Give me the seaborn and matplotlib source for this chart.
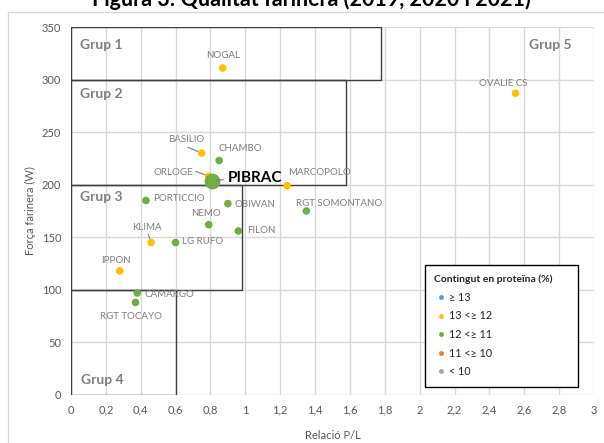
import matplotlib
matplotlib.use("Agg")
import pandas as pd
import seaborn as sns
import matplotlib.pyplot as plt
from matplotlib.patches import Rectangle
from matplotlib.lines import Line2D
from matplotlib.ticker import FuncFormatter, MultipleLocator

# Dades: varietats, relació P/L, força (W) i categoria de proteïna
varietats = ["NOGAL", "OVALIE CS", "BASILIO", "CHAMBO", "ORLOGE", "MARCOPOLO",
             "PORTICCIO", "OBIWAN", "NEMO", "RGT SOMONTANO", "FILON", "KLIMA",
             "LG RUFO", "IPPON", "CAMARGO", "RGT TOCAYO"]
relacio_pl = [0.87, 2.55, 0.75, 0.85, 0.79, 1.24, 0.43, 0.90, 0.79, 1.35,
              0.96, 0.46, 0.60, 0.28, 0.38, 0.37]
forca_w = [311, 287, 230, 223, 208, 199, 185, 182, 162, 175, 156, 145,
           145, 118, 97, 88]
proteina = ["13 <≥ 12", "13 <≥ 12", "13 <≥ 12", "12 <≥ 11", "13 <≥ 12",
            "13 <≥ 12", "12 <≥ 11", "12 <≥ 11", "12 <≥ 11", "12 <≥ 11",
            "12 <≥ 11", "13 <≥ 12", "12 <≥ 11", "13 <≥ 12", "12 <≥ 11",
            "12 <≥ 11"]

# varietat destacada
pibrac_pl = 0.81
pibrac_w = 204
pibrac_cat = "12 <≥ 11"

categories = ["≥ 13", "13 <≥ 12", "12 <≥ 11", "11 <≥ 10", "< 10"]
colors = ["#5B9BD5", "#FFC000", "#70AD47", "#ED7D31", "#A5A5A5"]
palette = dict(zip(categories, colors))

# grups de qualitat: (x0, x1, y0, y1)
grups = {"Grup 1": (0, 1.78, 300, 350), "Grup 2": (0, 1.58, 200, 300),
         "Grup 3": (0, 0.98, 100, 200), "Grup 4": (0, 0.6, 0, 100)}

df = pd.DataFrame({"Varietat": varietats, "P/L": relacio_pl, "W": forca_w,
                   "Proteina": proteina})

sns.set_theme(style="white")
plt.rcParams["font.family"] = ["Lato", "DejaVu Sans"]

fig = plt.figure(figsize=(6.04, 4.43), dpi=100)
ax = fig.add_axes([0.1175, 0.1084, 0.8659, 0.8306])

sns.scatterplot(data=df, x="P/L", y="W", hue="Proteina", palette=palette,
                s=30, linewidth=0, ax=ax, legend=False, zorder=4)
sns.scatterplot(x=[pibrac_pl], y=[pibrac_w], color=palette[pibrac_cat],
                s=130, linewidth=0, ax=ax, legend=False, zorder=5)

# rectangles dels grups
for nom, (x0, x1, y0, y1) in grups.items():
    ax.add_patch(Rectangle((x0, y0), x1 - x0, y1 - y0, fill=False,
                           edgecolor="#404040", linewidth=1, zorder=3))

grey = "#7F7F7F"
ax.text(0.05, 333, "Grup 1", fontsize=10, fontweight="bold", color=grey, va="center")
ax.text(0.05, 286, "Grup 2", fontsize=10, fontweight="bold", color=grey, va="center")
ax.text(0.05, 188, "Grup 3", fontsize=10, fontweight="bold", color=grey, va="center")
ax.text(0.06, 14, "Grup 4", fontsize=10, fontweight="bold", color=grey, va="center")
ax.text(2.63, 333, "Grup 5", fontsize=10, fontweight="bold", color=grey, va="center")

# etiquetes (desplaçament en píxels)
offsets = {"NOGAL": (0, 13, "center"), "OVALIE CS": (-12, 10, "center"),
           "BASILIO": (-15, 14, "center"), "CHAMBO": (21, 12, "center"),
           "ORLOGE": (-35, 4, "center"), "MARCOPOLO": (1, 13, "left"),
           "PORTICCIO": (7, 2, "left"), "OBIWAN": (7, -1, "left"),
           "NEMO": (-3, 11, "center"), "RGT SOMONTANO": (-10, 8, "left"),
           "FILON": (9, 0, "left"), "KLIMA": (-4, 15, "center"),
           "LG RUFO": (6, 1, "left"), "IPPON": (-4, 10, "center"),
           "CAMARGO": (7, -1, "left"), "RGT TOCAYO": (-4, -14, "center")}
for nom, x, y in zip(varietats, relacio_pl, forca_w):
    dx, dy, ha = offsets[nom]
    ax.annotate(nom, (x, y), xytext=(dx, dy), textcoords="offset pixels",
                ha=ha, va="center", fontsize=7, color=grey, zorder=6)

# línies guia
ax.annotate("", xy=(0.75, 230), xytext=(-14, 6), textcoords="offset pixels",
            arrowprops=dict(arrowstyle="-", color=grey, lw=0.8, shrinkA=0, shrinkB=2))
ax.annotate("", xy=(0.79, 208), xytext=(-13, 5), textcoords="offset pixels",
            arrowprops=dict(arrowstyle="-", color=grey, lw=0.8, shrinkA=0, shrinkB=2))
ax.annotate("", xy=(0.46, 145), xytext=(-3, 8), textcoords="offset pixels",
            arrowprops=dict(arrowstyle="-", color=grey, lw=0.8, shrinkA=0, shrinkB=2))
ax.annotate("PIBRAC", (pibrac_pl, pibrac_w), xytext=(16, 3), textcoords="offset pixels",
            ha="left", va="center", fontsize=11, fontweight="bold", color="black",
            arrowprops=dict(arrowstyle="-", color=grey, lw=0.8, shrinkA=1, shrinkB=3),
            zorder=6)

ax.set_xlim(0, 3)
ax.set_ylim(0, 350)
ax.xaxis.set_major_locator(MultipleLocator(0.2))
ax.yaxis.set_major_locator(MultipleLocator(50))
ax.xaxis.set_major_formatter(FuncFormatter(lambda v, p: f"{v:.1f}".rstrip("0").rstrip(".").replace(".", ",")))
ax.grid(True, color="#D9D9D9", linewidth=1)
ax.set_axisbelow(True)
for s in ax.spines.values():
    s.set_visible(False)
ax.tick_params(axis="both", length=0, labelsize=8, labelcolor="#595959", pad=7)
ax.set_xlabel("Relació P/L", fontsize=8, color="#595959", labelpad=10)
ax.set_ylabel("Força farinera (W)", fontsize=8, color="#595959", labelpad=4)

handles = [Line2D([0], [0], marker="o", linestyle="", markersize=3.5,
                  markerfacecolor=c, markeredgewidth=0) for c in colors]
leg = ax.legend(handles, categories, title="Contingut en proteïna (%)",
                loc="upper left", bbox_to_anchor=(0.666, 0.368, 0.313, 0.0),
                mode="expand", fontsize=7.8, title_fontsize=7.5, frameon=True,
                fancybox=False, edgecolor="black", framealpha=1,
                labelspacing=0.7, handletextpad=0.1, handlelength=1.2,
                borderpad=0.9, alignment="left")
leg.get_title().set_fontweight("bold")
leg.get_frame().set_linewidth(1)
leg.set_zorder(7)

# vora del gràfic i títol
fig.add_artist(Line2D([8 / 604, 8 / 604], [0, 1 - 12 / 443], color="#D9D9D9", lw=1,
                      transform=fig.transFigure))
fig.add_artist(Line2D([8 / 604, 1], [1 - 12 / 443, 1 - 12 / 443], color="#D9D9D9", lw=1,
                      transform=fig.transFigure))
fig.text(311 / 604, 1 - 6 / 443, "Figura 3: Qualitat farinera (2019, 2020 i 2021)",
         ha="center", va="baseline", fontsize=15.5, fontweight="bold", color="black")

fig.savefig("out.png", dpi=100)
